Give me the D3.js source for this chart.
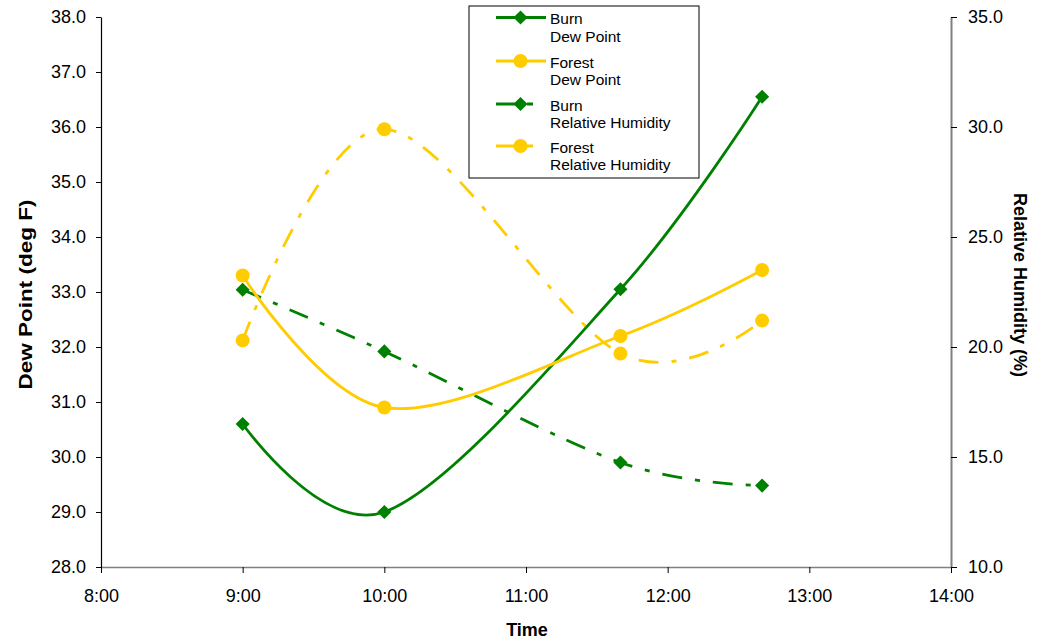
<!DOCTYPE html>
<html>
<head>
<meta charset="utf-8">
<script src="https://cdn.jsdelivr.net/npm/d3@7"></script>
<style>
  html, body { margin: 0; padding: 0; background: #fff; }
  svg { display: block; font-family: "Liberation Sans", Arial, sans-serif; }
</style>
</head>
<body>
<svg id="chart" width="1039" height="640"></svg>
<script>
// ---- data ----
const times = ["9:00", "10:00", "11:40", "12:40"];
const burnDewPoint = [30.6, 29.0, 33.05, 36.55];
const forestDewPoint = [33.3, 30.9, 32.2, 33.4];
const burnRH = [22.6, 19.8, 14.75, 13.7];
const forestRH = [20.3, 29.9, 19.7, 21.2];
const xTickLabels = ["8:00", "9:00", "10:00", "11:00", "12:00", "13:00", "14:00"];
const leftTicks = [28, 29, 30, 31, 32, 33, 34, 35, 36, 37, 38];
const rightTicks = [10, 15, 20, 25, 30, 35];
const seriesNames = [["Burn", "Dew Point"], ["Forest", "Dew Point"], ["Burn", "Relative Humidity"], ["Forest", "Relative Humidity"]];

const toHours = s => { const [h, m] = s.split(":").map(Number); return h + m / 60; };

const svg = d3.select("#chart");
const L = 101, R = 951, T = 17, B = 567;
const green = "#008000", yellow = "#FFCC00";
const dash = "20,13,5,13";

const x = d3.scaleLinear().domain([toHours(xTickLabels[0]), toHours(xTickLabels[xTickLabels.length - 1])]).range([L, R]);
const yL = d3.scaleLinear().domain([28, 38]).range([B, T]);
const yR = d3.scaleLinear().domain([10, 35]).range([B, T]);

// axes
const xAxis = d3.axisBottom(x).tickValues(xTickLabels.map(toHours))
  .tickFormat((d, i) => xTickLabels[i]).tickSize(6).tickSizeOuter(0);
const gx = svg.append("g").attr("transform", `translate(0,${B})`).call(xAxis);
gx.select(".domain").attr("stroke", "#808080").attr("stroke-width", 1.5);
gx.selectAll(".tick line").attr("stroke", "#000");
gx.selectAll(".tick text").attr("font-size", 18).attr("fill", "#000").attr("dy", null).attr("y", 35);

const yAxisL = d3.axisLeft(yL).tickValues(leftTicks).tickFormat(d3.format(".1f")).tickSize(5).tickSizeOuter(0);
const gyl = svg.append("g").attr("transform", `translate(${L},0)`).call(yAxisL);
gyl.select(".domain").attr("stroke", "#000").attr("stroke-width", 1.2);
gyl.selectAll(".tick line").attr("stroke", "#000");
gyl.selectAll(".tick text").attr("font-size", 18).attr("fill", "#000").attr("x", -15);

const yAxisR = d3.axisRight(yR).tickValues(rightTicks).tickFormat(d3.format(".1f")).tickSize(6).tickSizeOuter(0);
const gyr = svg.append("g").attr("transform", `translate(${R},0)`).call(yAxisR);
gyr.select(".domain").attr("stroke", "#808080").attr("stroke-width", 2);
gyr.selectAll(".tick line").attr("stroke", "#000");
gyr.selectAll(".tick text").attr("font-size", 18).attr("fill", "#000").attr("x", 17);

// titles
svg.append("text").attr("x", 527).attr("y", 636).attr("text-anchor", "middle")
  .attr("font-size", 18).attr("font-weight", "bold").text("Time");
svg.append("text").attr("transform", "translate(32,294.5) rotate(-90)").attr("text-anchor", "middle")
  .attr("font-size", 18.5).attr("font-weight", "bold")
  .attr("textLength", 190).attr("lengthAdjust", "spacingAndGlyphs").text("Dew Point (deg F)");
svg.append("text").attr("transform", "translate(1014,285) rotate(90)").attr("text-anchor", "middle")
  .attr("font-size", 18).attr("font-weight", "bold").text("Relative Humidity (%)");

// series
const hrs = times.map(toHours);
const series = [
  { vals: burnDewPoint, y: yL, color: green, dashed: false, marker: "diamond" },
  { vals: forestDewPoint, y: yL, color: yellow, dashed: false, marker: "circle" },
  { vals: burnRH, y: yR, color: green, dashed: true, marker: "diamond" },
  { vals: forestRH, y: yR, color: yellow, dashed: true, marker: "circle" }
];
const diamond = d3.symbol(d3.symbolSquare, 100)();

function drawMarker(g, type, cx, cy, color) {
  if (type === "diamond") {
    g.append("path").attr("d", diamond).attr("fill", color)
      .attr("transform", `translate(${cx},${cy}) rotate(45)`);
  } else {
    g.append("circle").attr("cx", cx).attr("cy", cy).attr("r", 7).attr("fill", color);
  }
}

const order = [2, 3, 0, 1];
order.forEach(si => {
  const s = series[si];
  const pts = hrs.map((h, i) => [x(h), s.y(s.vals[i])]);
  const line = d3.line().curve(d3.curveCatmullRom.alpha(0));
  svg.append("path").attr("d", line(pts)).attr("fill", "none")
    .attr("stroke", s.color).attr("stroke-width", 2.8)
    .attr("stroke-dasharray", s.dashed ? dash : null);
  const g = svg.append("g");
  pts.forEach(p => drawMarker(g, s.marker, p[0], p[1], s.color));
});

// legend
const lg = svg.append("g");
lg.append("rect").attr("x", 469).attr("y", 6).attr("width", 230).attr("height", 172)
  .attr("fill", "#fff").attr("stroke", "#000").attr("stroke-width", 1);
const legY = [17.5, 61, 104, 146];
series.forEach((s, i) => {
  const yy = legY[i];
  lg.append("line").attr("x1", 496).attr("x2", s.dashed ? 537 : 546).attr("y1", yy).attr("y2", yy)
    .attr("stroke", s.color).attr("stroke-width", 2.8)
    .attr("stroke-dasharray", s.dashed ? "20,11,6,13" : null);
  drawMarker(lg, s.marker, 520.5, yy, s.color);
  const t = lg.append("text").attr("x", 550).attr("y", yy + 6.5).attr("font-size", 15.5).attr("fill", "#000");
  t.append("tspan").attr("x", 550).text(seriesNames[i][0]);
  t.append("tspan").attr("x", 550).attr("dy", 17.5).text(seriesNames[i][1]);
});
</script>
</body>
</html>
